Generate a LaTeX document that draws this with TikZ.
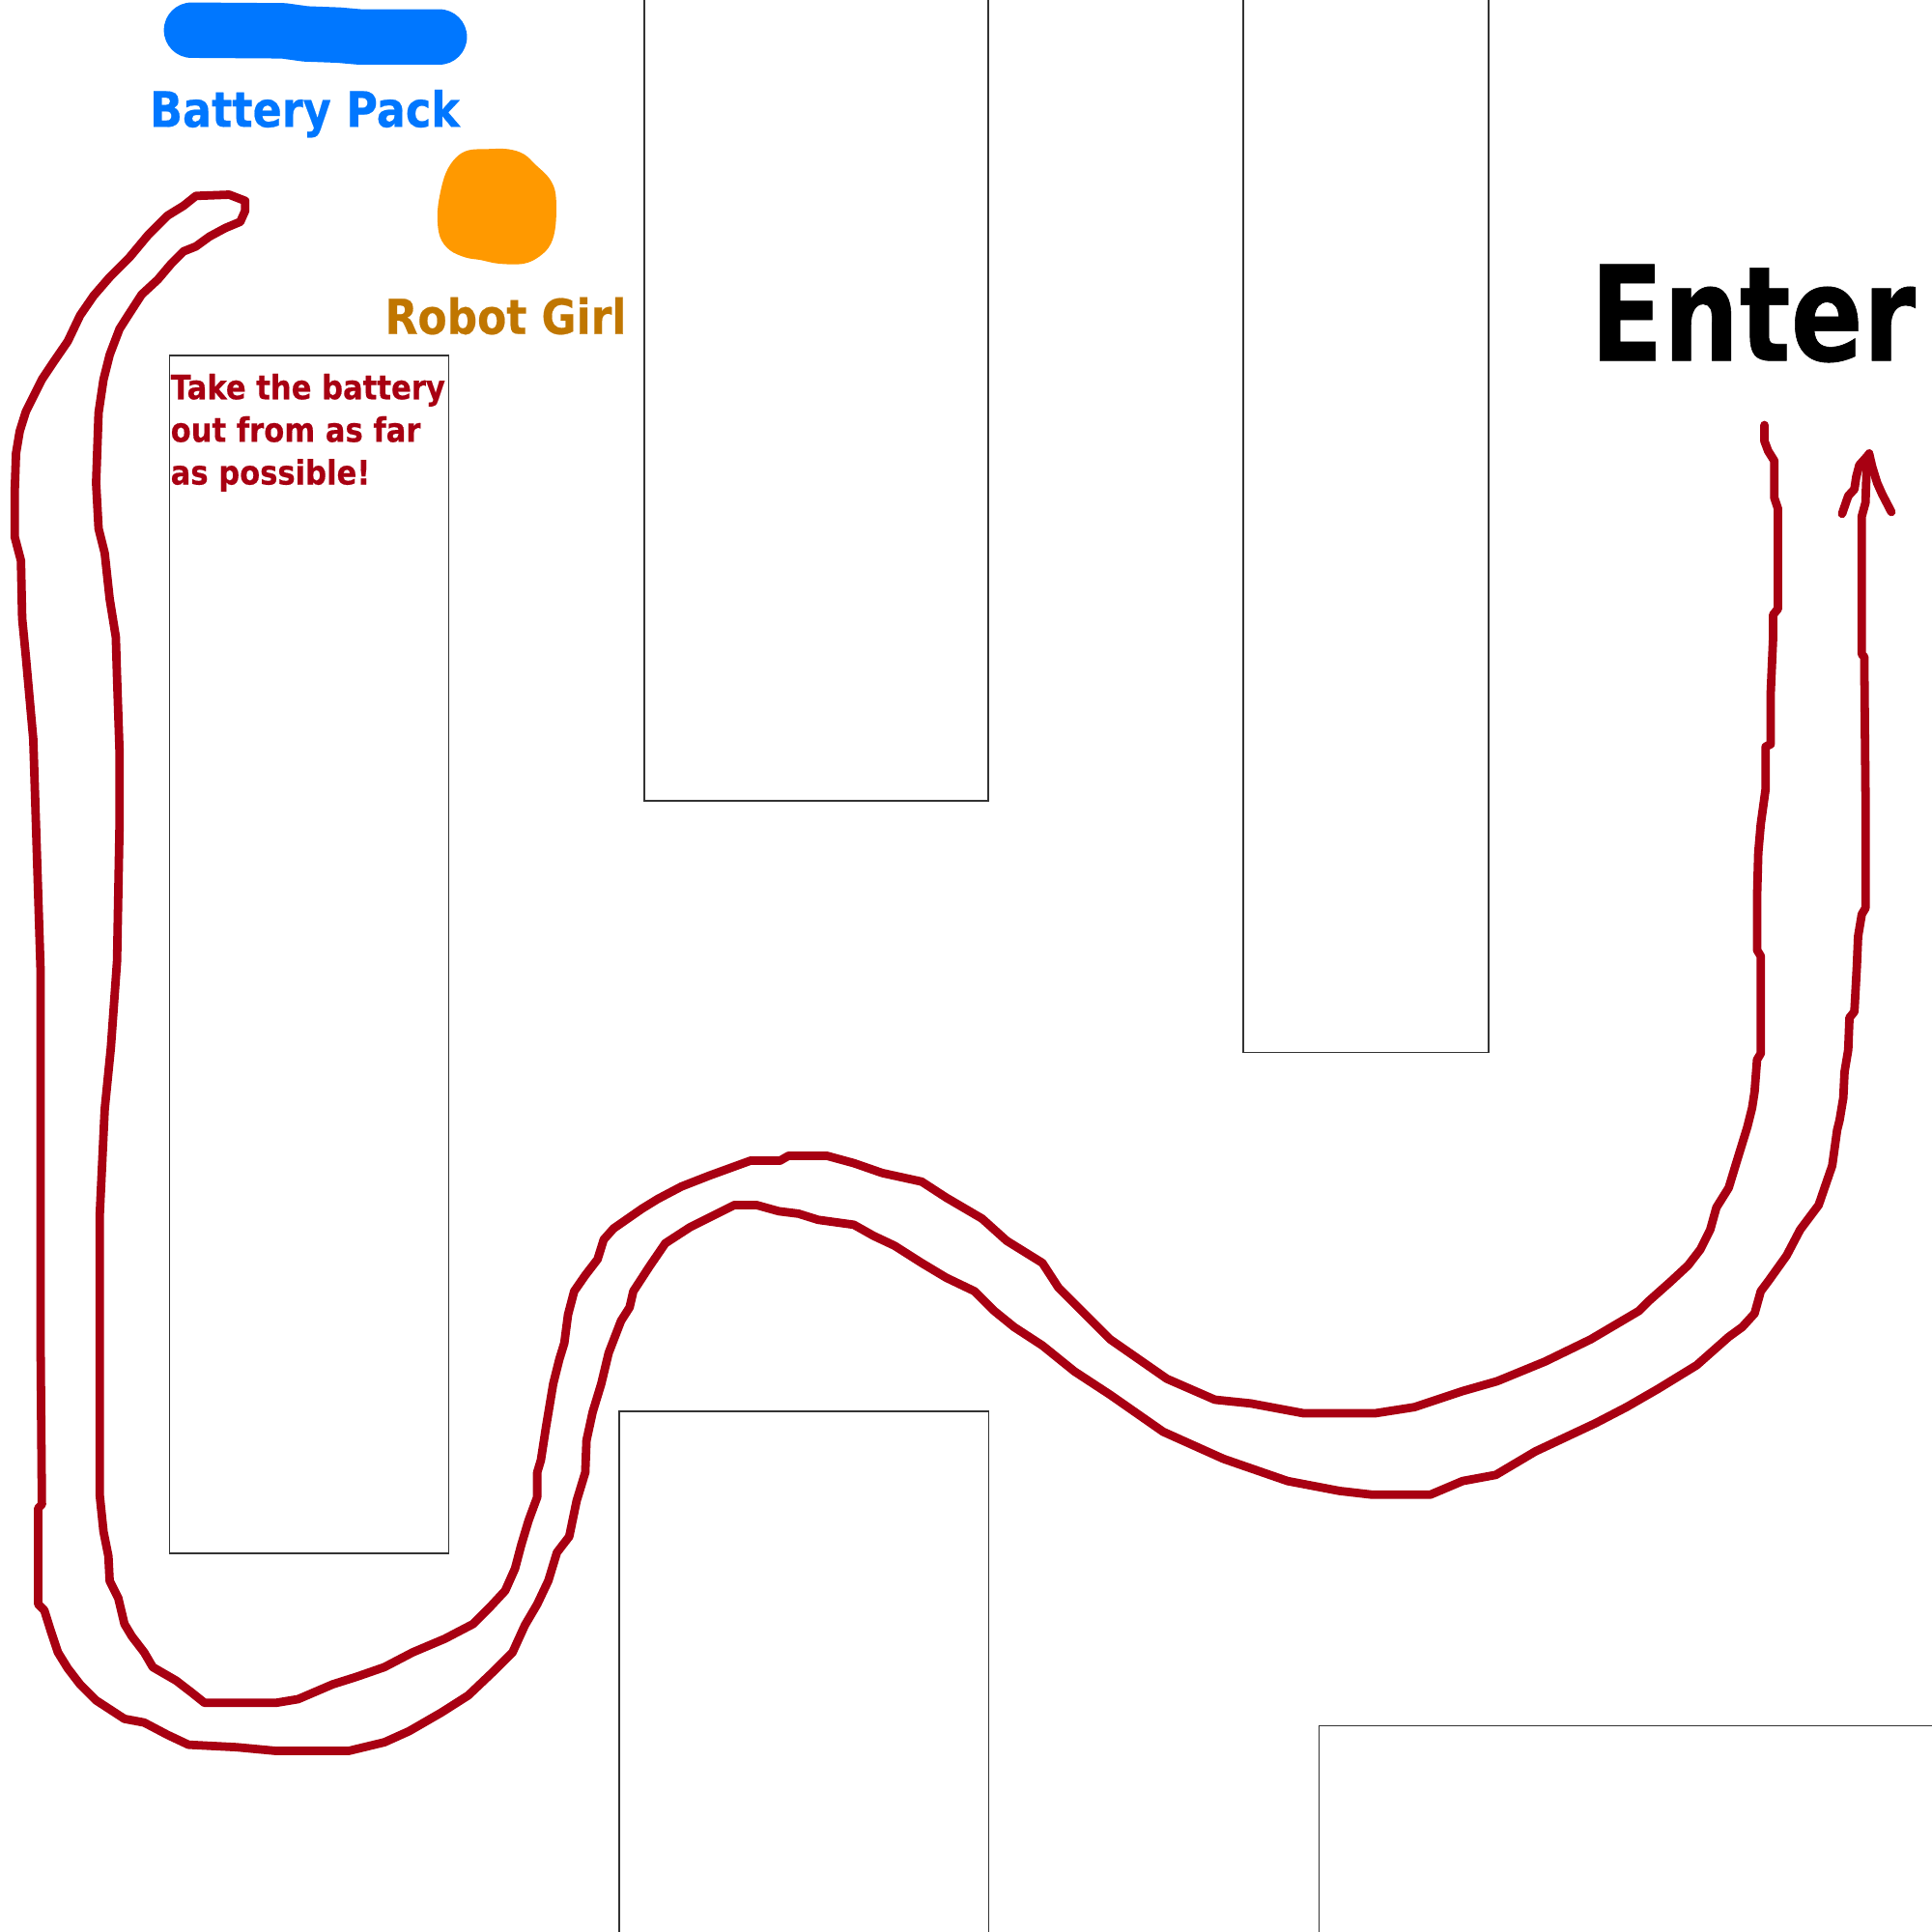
\documentclass[tikz,border=0pt]{standalone}
\usepackage{fontspec}
\newfontfamily\tahoma[FakeStretch=0.88,FakeBold=0.4]{DejaVu Sans}
\newfontfamily\tahomanarrow[FakeStretch=0.81,FakeBold=0.4]{DejaVu Sans}
\definecolor{batteryblue}{RGB}{0,119,255}
\definecolor{robotorange}{RGB}{255,153,0}
\definecolor{robotbrown}{RGB}{192,118,0}
\definecolor{routered}{RGB}{168,0,18}
\begin{document}
\begin{tikzpicture}[x=0.12755mm,y=-0.12755mm,
  wall/.style={draw=black!80,line width=0.45pt},
  route/.style={draw=routered,line width=2.5pt,line join=round,line cap=round},
  lbl/.style={inner sep=0pt,anchor=base west}]
  \useasboundingbox (0,0) rectangle (1568,1568);
  % walls of the maze
  \draw[wall] (137.5,288.5) rectangle (364,1260.5);
  \foreach \l/\r/\b in {523/802/650,1009/1208/854}
    \draw[wall] (\l,0) -- (\l,\b) -- (\r,\b) -- (\r,0);
  \foreach \l/\r/\t in {502.5/802.5/1145.5,1070.5/1572/1400.5}
    \draw[wall] (\l,1568) -- (\l,\t) -- (\r,\t) -- (\r,1568);
  % battery and robot
  \draw[batteryblue,line width=45*0.12755mm,line cap=round,line join=round]
    (155.5,24.5) -- (230,25) -- (248,27.5) -- (275,28.5) -- (292,30) -- (356.5,30);
  \fill[robotorange] plot[smooth cycle,tension=0.6] coordinates {(380,122) (395,121) (412,121)
    (425,125) (435,134) (446,145) (451,158) (451,182) (447,198) (438,208) (425,214) (405,214)
    (390,211) (378,209) (365,203) (357,192) (355,175) (357,158) (362,140) (370,128)};
  \node[lbl,text=batteryblue,font=\tahoma\bfseries\fontsize{14.4}{17}\selectfont] (batterylbl) at (121,103) {Battery Pack};
  \node[lbl,text=robotbrown,font=\tahoma\bfseries\fontsize{14.2}{17}\selectfont] (robotlbl) at (312,271) {Robot Girl};
  \foreach \txt [count=\i] in {Take the battery,out from as far,as possible!}
    \node[lbl,text=routered,font=\tahoma\bfseries\fontsize{9.9}{12}\selectfont] (note\i) at (138,289.4+34.6*\i) {\txt};
  \node[lbl,font=\tahomanarrow\bfseries\fontsize{38.9}{44}\selectfont] (enterlbl) at (1290,292.7) {Enter};
  % the way in and back out
  \draw[route] (1432,345) -- (1432,358) -- (1435,366) -- (1440,374) -- (1440,404) -- (1443,413)
    -- (1443,494) -- (1439,499) -- (1439,518) -- (1437,564) -- (1437,604) -- (1433,606)
    -- (1433,640) -- (1429,669) -- (1427,692) -- (1426,729) -- (1426,771) -- (1429,776)
    -- (1429,855) -- (1426,860) -- (1424,886) -- (1422,899) -- (1418,915) -- (1410,941)
    -- (1403,964) -- (1393,980) -- (1388,998) -- (1380,1014) -- (1370,1027) -- (1356,1040)
    -- (1338,1056) -- (1330,1064) -- (1291,1087) -- (1254,1105) -- (1215,1121) -- (1187,1129)
    -- (1148,1142) -- (1116,1147) -- (1058,1147) -- (1015,1139) -- (986,1136) -- (947,1119)
    -- (901,1087) -- (875,1061) -- (859,1045) -- (846,1025) -- (817,1007) -- (797,989)
    -- (768,972) -- (748,959) -- (716,952) -- (693,944) -- (671,938) -- (640,938) -- (633,942)
    -- (609,942) -- (576,954) -- (553,963) -- (534,973) -- (521,981) -- (498,997) -- (490,1006)
    -- (485,1022) -- (475,1035) -- (466,1048) -- (461,1067) -- (458,1090) -- (454,1103)
    -- (449,1123) -- (443,1159) -- (439,1185) -- (436,1195) -- (436,1215) -- (429,1234)
    -- (423,1254) -- (418,1273) -- (410,1291) -- (397,1305) -- (384,1318) -- (361,1330)
    -- (335,1341) -- (312,1353) -- (289,1361) -- (270,1367) -- (242,1379) -- (224,1382)
    -- (166,1382) -- (156,1374) -- (143,1364) -- (124,1353) -- (117,1341) -- (107,1328)
    -- (101,1318) -- (96,1297) -- (89,1283) -- (88,1263) -- (84,1243) -- (81,1214)
    -- (81,985) -- (85,900) -- (90,850) -- (95,780) -- (97,670) -- (97,610) -- (95,550)
    -- (94,517) -- (89,486) -- (85,449) -- (80,429) -- (78,392) -- (80,335) -- (84,308)
    -- (89,288) -- (97,267) -- (104,256) -- (115,239) -- (128,227) -- (139,214) -- (149,204)
    -- (159,200) -- (170,192) -- (183,185) -- (195,180) -- (199,171) -- (199,163) -- (186,158)
    -- (159,159) -- (149,167) -- (136,175) -- (120,191) -- (105,209) -- (89,225) -- (76,240)
    -- (65,256) -- (55,277) -- (44,293) -- (34,308) -- (26,324) -- (21,334) -- (16,350)
    -- (13,368) -- (12,397) -- (12,436) -- (17,455) -- (18,502) -- (21,533) -- (27,600)
    -- (30,695) -- (33,790) -- (33,1100) -- (34,1221) -- (31,1224) -- (31,1302) -- (36,1307)
    -- (41,1323) -- (47,1341) -- (55,1354) -- (65,1367) -- (78,1380) -- (101,1395)
    -- (117,1398) -- (136,1408) -- (153,1416) -- (192,1418) -- (224,1421) -- (283,1421)
    -- (312,1414) -- (332,1405) -- (358,1390) -- (380,1376) -- (400,1357) -- (416,1341)
    -- (426,1319) -- (436,1302) -- (445,1283) -- (452,1260) -- (462,1247) -- (468,1218)
    -- (475,1195) -- (476,1169) -- (481,1146) -- (488,1123) -- (494,1098) -- (504,1072)
    -- (511,1061) -- (514,1048) -- (527,1028) -- (540,1009) -- (560,996) -- (586,983)
    -- (596,978) -- (614,978) -- (632,983) -- (648,985) -- (664,990) -- (693,994) -- (709,1003)
    -- (726,1011) -- (748,1025) -- (768,1037) -- (791,1048) -- (807,1064) -- (823,1077)
    -- (846,1092) -- (872,1113) -- (901,1132) -- (944,1162) -- (993,1184) -- (1045,1202)
    -- (1087,1210) -- (1113,1213) -- (1161,1213) -- (1187,1202) -- (1214,1197) -- (1246,1178)
    -- (1295,1155) -- (1320,1142) -- (1346,1127) -- (1377,1108) -- (1403,1085) -- (1414,1077)
    -- (1424,1066) -- (1429,1048) -- (1435,1040) -- (1450,1019) -- (1461,998) -- (1476,978)
    -- (1487,946) -- (1491,917) -- (1493,909) -- (1496,891) -- (1497,870) -- (1500,852)
    -- (1501,826) -- (1505,821) -- (1507,784) -- (1508,760) -- (1511,742) -- (1514,737)
    -- (1514,643) -- (1513,533) -- (1511,531) -- (1511,419) -- (1514,408) -- (1515,379)
    -- (1517,368);
  % arrow head
  \draw[route] (1495,417) -- (1500,402.5) -- (1505,397) -- (1506.5,387) -- (1509,377.5) -- (1517,368.5)
    -- (1519.5,379) -- (1523.5,392) -- (1527.5,401) -- (1535,415.5);
\end{tikzpicture}
\end{document}
